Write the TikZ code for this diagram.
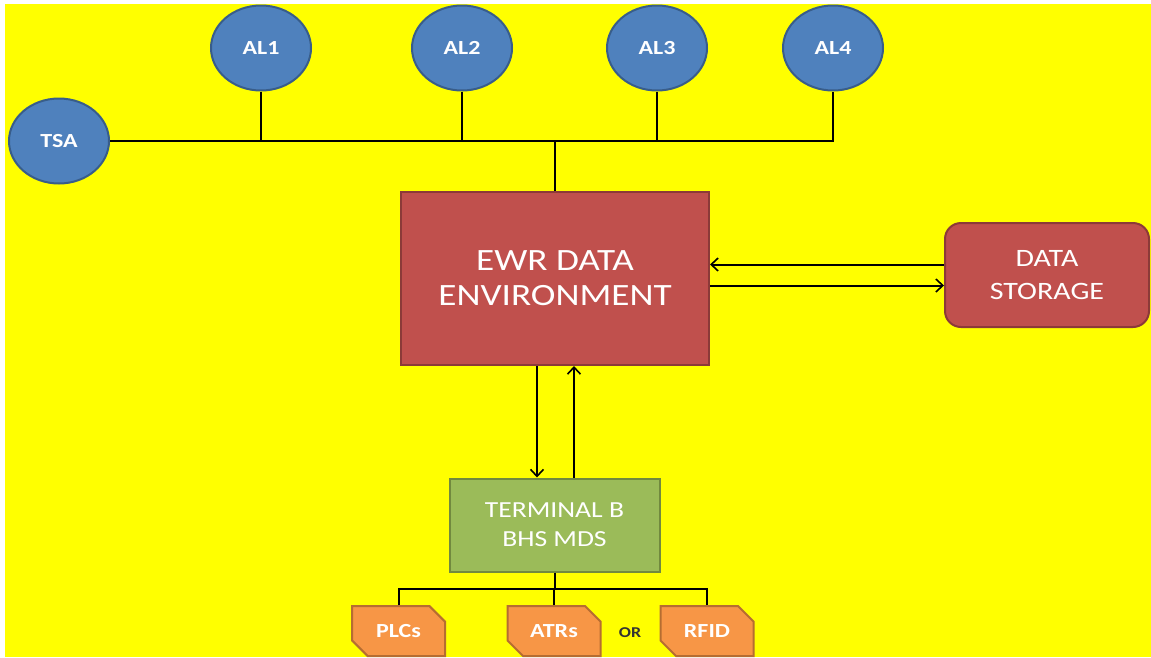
\documentclass[tikz,border=0pt]{standalone}
\usepackage{fontspec}
\setmainfont{Carlito}[FakeStretch=1.2]
\usetikzlibrary{shapes.geometric,shapes.misc,arrows.meta}

\definecolor{bgyellow}{HTML}{FFFF00}
\definecolor{alfill}{HTML}{4F81BD}
\definecolor{aledge}{HTML}{385D8A}
\definecolor{ewrfill}{HTML}{C0504D}
\definecolor{ewredge}{HTML}{8C3A38}
\definecolor{termfill}{HTML}{9BBB59}
\definecolor{termedge}{HTML}{71893F}
\definecolor{devfill}{HTML}{F79646}
\definecolor{devedge}{HTML}{B66D31}

\begin{document}
\begin{tikzpicture}[x=1pt,y=-1pt,
    line width=2pt,
    >={Straight Barb[length=7pt,width=13pt,line width=1.6pt]},
    bubble/.style={ellipse,draw=aledge,fill=alfill,line width=2pt,
        minimum width=100pt,minimum height=85pt,inner sep=0pt,
        text=white,font=\fontsize{20}{22}\selectfont\bfseries},
    bigbox/.style={rectangle,draw=ewredge,fill=ewrfill,line width=2pt,
        align=center,text=white},
    termbox/.style={rectangle,draw=termedge,fill=termfill,line width=2pt,
        minimum width=210pt,minimum height=93pt,align=center,text=white,
        font=\fontsize{23}{29}\selectfont},
    devbox/.style={chamfered rectangle,
        chamfered rectangle corners={north east,south west},
        chamfered rectangle xsep=9pt,chamfered rectangle ysep=9pt,
        draw=devedge,fill=devfill,line width=2pt,
        minimum width=93pt,minimum height=50pt,inner sep=0pt,
        text=white,font=\fontsize{20}{22}\selectfont\bfseries}]

\useasboundingbox (0,0) rectangle (1151,657);
\fill[white] (0,0) rectangle (1151,657);
\fill[bgyellow] (5,4) rectangle (1151,657);

% airlines and TSA
\node[bubble] (tsa) at (59,141) {TSA};
\node[bubble] (al1) at (261,48) {AL1};
\node[bubble] (al2) at (462,48) {AL2};
\node[bubble] (al3) at (657,48) {AL3};
\node[bubble] (al4) at (833,48) {AL4};

\node[bigbox,minimum width=308pt,minimum height=173pt,
      font=\fontsize{31}{35}\selectfont] (ewr) at (555,278.5)
      {EWR DATA\\ENVIRONMENT};
\node[bigbox,rounded corners=16pt,minimum width=204pt,minimum height=104pt,
      font=\fontsize{25}{33}\selectfont] (store) at (1047,275)
      {DATA\\STORAGE};

\node[termbox] (term) at (554.5,525) {TERMINAL B\\BHS MDS};

\node[devbox] (plc) at (398.5,631) {PLCs};
\node[devbox] (atr) at (554,631) {ATRs};
\node[devbox] (rfid) at (707,631) {RFID};
\node[font=\fontsize{15}{17}\selectfont\bfseries,text=black!80] (or) at (630,633) {OR};

% bus on top
\coordinate (bus) at (555,141);
\draw (tsa.east) -- (al4.south |- bus) -- (al4.south);
\draw (al1.south) -- (al1.south |- bus);
\draw (al2.south) -- (al2.south |- bus);
\draw (al3.south) -- (al3.south |- bus);
\draw (ewr.north) -- (bus);

% storage link
\draw[<-] ([yshift=14pt]ewr.east) -- ([yshift=14pt]ewr.east -| store.west);
\draw[->] ([yshift=-7pt]ewr.east) -- ([yshift=-7pt]ewr.east -| store.west);

% terminal link
\draw[->] ([xshift=-18pt]ewr.south) -- ([xshift=-18pt]ewr.south |- term.north);
\draw[->] ([xshift=19pt]ewr.south |- term.north) -- ([xshift=19pt]ewr.south);

% devices
\coordinate (split) at (554.5,589);
\draw (term.south) -- (split);
\draw (plc.north) -- (plc.north |- split) -- (rfid.north |- split) -- (rfid.north);
\draw (atr.north) -- (atr.north |- split);

\end{tikzpicture}
\end{document}
